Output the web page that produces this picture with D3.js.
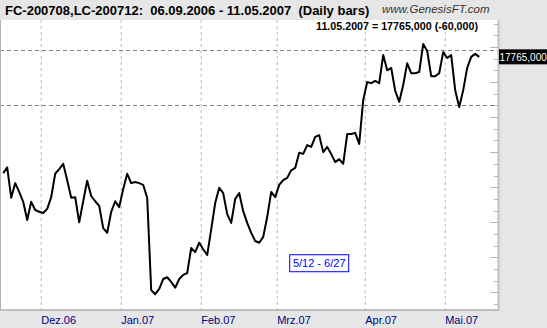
<!DOCTYPE html>
<html>
<head>
<meta charset="utf-8">
<script src="https://cdn.jsdelivr.net/npm/d3@7"></script>
<style>
  body { margin: 0; background: #e6e6e6; }
  svg { display: block; font-family: Arial, "Liberation Sans", sans-serif; }
  text { white-space: pre; }
</style>
</head>
<body>
<svg id="chart" width="547" height="328"></svg>
<script>
// month labels and the bar index where each month starts
const monthLabels = ["Dez.06", "Jan.07", "Feb.07", "Mrz.07", "Apr.07", "Mai.07"];
const monthStart = [10, 30, 50, 69, 91, 111];

// daily closes
const closes = [
  16770, 16820, 16560, 16685, 16610, 16525, 16370, 16525, 16455, 16440,
  16430, 16465, 16565, 16765, 16805, 16850, 16710, 16560, 16565, 16350,
  16530, 16705, 16575, 16530, 16490, 16300, 16260, 16440, 16530, 16480,
  16635, 16765, 16685, 16695, 16685, 16670, 16560, 15770, 15735, 15780,
  15865, 15880, 15840, 15790, 15865, 15900, 15915, 16130, 16095, 16175,
  16120, 16070, 16290, 16515, 16645, 16600, 16420, 16345, 16550, 16600,
  16445, 16345, 16260, 16190, 16175, 16225, 16395, 16610, 16565, 16670,
  16710, 16730, 16795, 16815, 16945, 16935, 17010, 16995, 17080, 17095,
  16950, 16995, 16935, 16865, 16890, 16850, 17105, 17105, 17115, 17020,
  17395, 17550, 17540, 17560, 17540, 17780, 17650, 17670, 17475, 17380,
  17525, 17710, 17625, 17625, 17635, 17875, 17815, 17600, 17600, 17625,
  17805, 17755, 17780, 17480, 17335, 17480, 17670, 17765, 17790, 17765,
];

// horizontal dashed reference levels
const refLevels = [17825, 17350];

const titleText = "FC-200708,LC-200712:  06.09.2006 - 11.05.2007  (Daily bars)";
const siteText = "www.GenesisFT.com";
const lastText = "11.05.2007 = 17765,000 (-60,000)";
const lastLabel = "17765,000";
const noteText = "5/12 - 6/27";

const svg = d3.select("#chart");
const plot = { left: 0, top: 20, right: 498, bottom: 310 };

const x = d3.scaleLinear().domain([0, closes.length - 1]).range([3.2, 479.2]);
const y = d3.scaleLinear().domain([15600, 18080]).range([plot.bottom, plot.top]);

// plot background
svg.append("rect")
  .attr("x", plot.left).attr("y", plot.top)
  .attr("width", plot.right - plot.left)
  .attr("height", plot.bottom - plot.top)
  .attr("fill", "#fff");

// vertical month gridlines
svg.append("g")
  .selectAll("line")
  .data(monthStart)
  .enter().append("line")
  .attr("x1", (d) => x(d) - 2).attr("x2", (d) => x(d) - 2)
  .attr("y1", plot.top).attr("y2", plot.bottom)
  .attr("stroke", "#b8b8b8")
  .attr("stroke-dasharray", "3,3");

// horizontal reference levels
svg.append("g")
  .selectAll("line")
  .data(refLevels)
  .enter().append("line")
  .attr("x1", plot.left).attr("x2", plot.right)
  .attr("y1", (d) => Math.round(y(d)) + 0.5).attr("y2", (d) => Math.round(y(d)) + 0.5)
  .attr("stroke", "#808080")
  .attr("stroke-dasharray", "4,3");

// right axis ticks, pointing inward
const tickVals = d3.range(15650, 18080, 100);
svg.append("g")
  .selectAll("line")
  .data(tickVals)
  .enter().append("line")
  .attr("x1", (d) => ((d - 15750) % 300 === 0 ? plot.right - 8 : plot.right - 4))
  .attr("x2", plot.right)
  .attr("y1", (d) => Math.round(y(d)) + 0.5).attr("y2", (d) => Math.round(y(d)) + 0.5)
  .attr("stroke", "#b4b4b4");

// borders
svg.append("line")
  .attr("x1", 0.5).attr("x2", 0.5).attr("y1", plot.top).attr("y2", plot.bottom)
  .attr("stroke", "#b4b4b4");
svg.append("line")
  .attr("x1", plot.right + 0.5).attr("x2", plot.right + 0.5)
  .attr("y1", plot.top).attr("y2", plot.bottom + 1)
  .attr("stroke", "#c0c0c0").attr("stroke-width", 2);
svg.append("line")
  .attr("x1", 0).attr("x2", plot.right + 1.5)
  .attr("y1", plot.bottom).attr("y2", plot.bottom)
  .attr("stroke", "#c0c0c0").attr("stroke-width", 2);

// price line
const line = d3.line()
  .x((d, i) => x(i))
  .y((d) => y(d));

svg.append("path")
  .datum(closes)
  .attr("d", line)
  .attr("fill", "none")
  .attr("stroke", "#000")
  .attr("stroke-width", 2)
  .attr("stroke-linejoin", "round");

// month labels
svg.append("g")
  .selectAll("text")
  .data(monthStart)
  .enter().append("text")
  .attr("x", (d) => x(d) - 2)
  .attr("y", 324)
  .attr("fill", "#000080")
  .attr("font-size", 11)
  .text((d, i) => monthLabels[i]);

// header texts
svg.append("text")
  .attr("x", 5).attr("y", 15)
  .attr("font-size", 13).attr("font-weight", "bold")
  .text(titleText);

svg.append("text")
  .attr("x", 382).attr("y", 13)
  .attr("font-size", 11.5).attr("font-style", "italic")
  .attr("fill", "#333")
  .text(siteText);

svg.append("text")
  .attr("x", 478).attr("y", 30)
  .attr("text-anchor", "end")
  .attr("font-size", 10.7).attr("font-weight", "bold")
  .text(lastText);

// last value label on the right
const lastY = y(closes[closes.length - 1]);
svg.append("rect")
  .attr("x", 499).attr("y", lastY - 7.5)
  .attr("width", 48).attr("height", 15)
  .attr("fill", "#000");
svg.append("text")
  .attr("x", 499.5).attr("y", lastY + 4)
  .attr("fill", "#fff")
  .attr("font-size", 10)
  .text(lastLabel);

// annotation box
const note = svg.append("g").attr("transform", `translate(${x(79)},${y(16000)})`);
note.append("rect")
  .attr("x", -29.5).attr("y", -8.5)
  .attr("width", 59).attr("height", 17)
  .attr("fill", "#fff").attr("stroke", "#0000ff");
note.append("text")
  .attr("text-anchor", "middle")
  .attr("y", 4)
  .attr("fill", "#0000ff")
  .attr("font-size", 11)
  .text(noteText);
</script>
</body>
</html>
